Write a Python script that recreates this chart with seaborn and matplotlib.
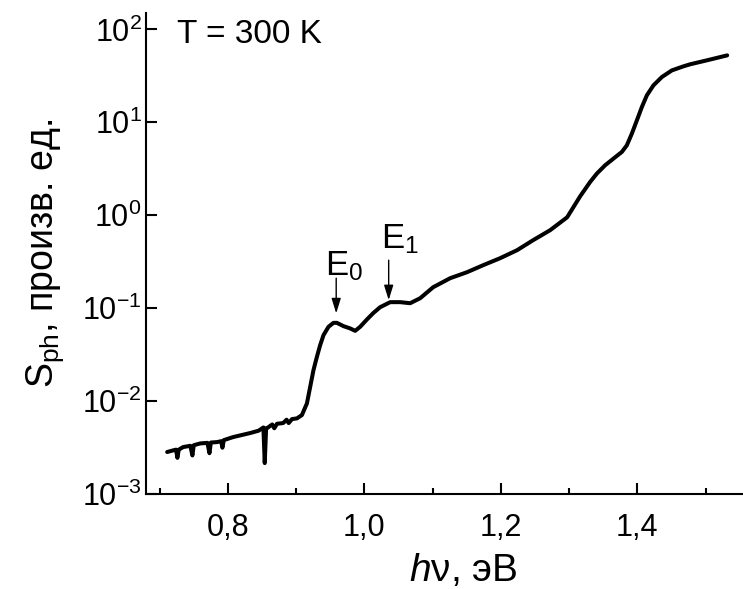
import numpy as np
import pandas as pd
import matplotlib
matplotlib.use("Agg")
import matplotlib.pyplot as plt
import seaborn as sns

# ---- data ----
photon_energy = [0.711, 0.720, 0.724, 0.726, 0.728, 0.7345, 0.745, 0.748, 0.750, 0.7594,
                 0.770, 0.773, 0.775, 0.7843, 0.790, 0.792, 0.794, 0.8078, 0.8327, 0.845,
                 0.852, 0.854, 0.856, 0.8576, 0.865, 0.868, 0.872, 0.881, 0.886, 0.889,
                 0.894, 0.9011, 0.9084, 0.9158, 0.9206, 0.9254, 0.9304, 0.9352, 0.9401,
                 0.9474, 0.9547, 0.9597, 0.9694, 0.9792, 0.9865, 0.9938, 1.0037, 1.0133,
                 1.0232, 1.0378, 1.0525, 1.0671, 1.0818, 1.1008, 1.1257, 1.1506, 1.1741,
                 1.199, 1.2239, 1.2473, 1.2722, 1.2971, 1.3162, 1.3308, 1.3407, 1.3528,
                 1.3650, 1.3773, 1.3846, 1.3919, 1.3993, 1.4066, 1.4139, 1.4236, 1.4359,
                 1.4506, 1.4675, 1.4774, 1.5023, 1.5316]
s_ph = [2.83e-3, 2.95e-3, 3.0e-3, 2.45e-3, 3.0e-3, 3.2e-3, 3.3e-3, 2.6e-3, 3.35e-3, 3.5e-3,
        3.55e-3, 2.75e-3, 3.58e-3, 3.62e-3, 3.7e-3, 3.15e-3, 3.8e-3, 4.1e-3, 4.53e-3, 4.8e-3,
        5.2e-3, 2.15e-3, 5.1e-3, 5.13e-3, 5.6e-3, 5.1e-3, 5.7e-3, 5.8e-3, 6.3e-3, 5.8e-3,
        6.4e-3, 6.51e-3, 7.06e-3, 9.44e-3, 0.01425, 0.02153, 0.02992, 0.0400, 0.05128,
        0.06295, 0.0695, 0.0695, 0.0640, 0.0605, 0.0570, 0.0630, 0.0755, 0.0889,
        0.1025, 0.116, 0.116, 0.113, 0.128, 0.168, 0.210, 0.244, 0.290,
        0.345, 0.421, 0.539, 0.690, 0.950, 1.60, 2.28, 2.81, 3.45,
        4.07, 4.80, 5.66, 7.55, 10.5, 14.6, 19.5, 25.0, 30.7,
        36.2, 40.0, 42.1, 46.5, 52.5]

x_ticks = [0.8, 1.0, 1.2, 1.4]
x_tick_labels = ["0,8", "1,0", "1,2", "1,4"]
y_ticks = [1e-3, 1e-2, 1e-1, 1e0, 1e1, 1e2]
y_tick_labels = ["10$^{-3}$", "10$^{-2}$", "10$^{-1}$", "10$^{0}$", "10$^{1}$", "10$^{2}$"]

peak_labels = ["E$_0$", "E$_1$"]
peak_x = [0.9587, 1.0356]
peak_tip = [0.088, 0.122]
peak_tail = [0.21, 0.328]
label_pos_x = [0.9430, 1.0250]
label_pos_y = [0.226, 0.441]

temperature_text = "T = 300 K"
x_label = "$\\mathit{h}$ν, эВ"
y_label = "S$_{\\mathrm{ph}}$, произв. ед."

df = pd.DataFrame({"hv": photon_energy, "S": s_ph})

sns.set_theme(style="ticks")
plt.rcParams["font.family"] = ["Liberation Sans", "DejaVu Sans"]
plt.rcParams["mathtext.fontset"] = "custom"
plt.rcParams["mathtext.rm"] = "Liberation Sans"
plt.rcParams["mathtext.it"] = "Liberation Sans:italic"
plt.rcParams["mathtext.default"] = "regular"

fig = plt.figure(figsize=(7.43, 5.89), dpi=100)
ax = fig.add_axes([146 / 743, 1 - 494 / 589, (780 - 146) / 743, (494 - 13) / 589])

sns.lineplot(data=df, x="hv", y="S", ax=ax, color="black", linewidth=2.9,
             sort=False, estimator=None, solid_joinstyle="round",
             solid_capstyle="round")

ax.set_yscale("log")
ax.set_xlim(0.68, 1.609)
ax.set_ylim(1e-3, 150)

ax.set_xticks(x_ticks)
ax.set_xticklabels(x_tick_labels)
ax.set_xticks(np.arange(0.7, 1.61, 0.2), minor=True)
ax.set_yticks(y_ticks)
ax.set_yticklabels(y_tick_labels)
ax.yaxis.set_minor_locator(matplotlib.ticker.NullLocator())

ax.tick_params(axis="both", which="major", direction="in", length=8, width=1.5,
               labelsize=22, color="black", labelcolor="black")
ax.tick_params(axis="x", which="major", pad=14)
ax.tick_params(axis="y", which="major", pad=3)
ax.tick_params(axis="x", which="minor", direction="in", length=4.5, width=1.5, color="black")

for side in ["top", "right"]:
    ax.spines[side].set_visible(False)
for side in ["left", "bottom"]:
    ax.spines[side].set_linewidth(1.5)
    ax.spines[side].set_color("black")

ax.set_xlabel(x_label, fontsize=28, labelpad=6, color="black")
ax.set_ylabel(y_label, fontsize=27, labelpad=12, color="black")

for lab, px, tip, tail, lx, ly in zip(peak_labels, peak_x, peak_tip, peak_tail,
                                      label_pos_x, label_pos_y):
    ax.annotate("", xy=(px, tip), xytext=(px, tail),
                arrowprops=dict(arrowstyle="-|>,head_width=0.28,head_length=0.9",
                                color="black", lw=1.0, mutation_scale=10,
                                shrinkA=0, shrinkB=0))
    ax.text(lx, ly, lab, fontsize=25, ha="left", va="baseline", color="black")

ax.text(0.049, 0.938, temperature_text, transform=ax.transAxes, fontsize=24,
        ha="left", va="baseline", color="black")

fig.savefig("out.png", dpi=100)
